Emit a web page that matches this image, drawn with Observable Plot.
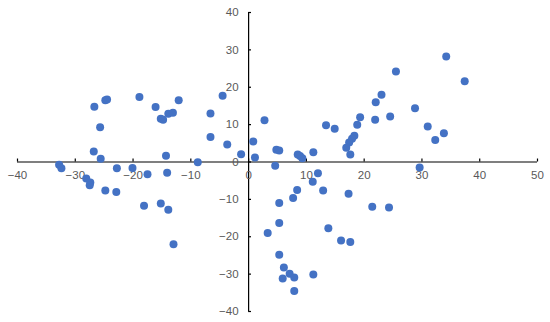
<!DOCTYPE html>
<html>
<head>
<meta charset="utf-8">
<script src="https://cdn.jsdelivr.net/npm/d3@7"></script>
<script src="https://cdn.jsdelivr.net/npm/@observablehq/plot@0.6"></script>
<style>
  html, body { margin: 0; padding: 0; background: #fff; }
  #chart svg { display: block; }
</style>
</head>
<body>
<div id="chart"></div>
<script>
const xValues = [-26.7,-25.7,-24.8,-24.5,-26.8,-25.6,-18.9,-16.1,-15.2,-14.8,-13.9,-13.1,-12.1,-14.3,-8.8,-6.6,-6.6,-4.5,-3.7,-1.3,0.8,1.1,2.75,
  34.2,37.4,25.5,23.0,22.0,28.8,19.3,18.8,21.9,24.5,13.4,14.9,31.0,32.3,33.8,18.3,17.9,17.4,16.9,17.6,11.2,8.5,8.9,9.3,4.8,5.3,
  -32.8,-32.4,-28.1,-27.4,-27.5,-24.8,-22.9,-22.8,-20.1,-17.5,-14.1,-18.1,-15.2,-13.9,-13.0,3.3,4.6,12.0,11.1,8.4,7.7,12.9,17.3,5.3,21.4,24.3,5.3,13.8,16.0,17.6,5.3,6.1,7.1,7.9,5.9,11.2,7.9,29.6];
const yValues = [14.8,9.3,16.5,16.7,2.8,0.9,17.4,14.7,11.6,11.3,12.9,13.2,16.5,1.7,-0.1,13.0,6.7,17.7,4.7,2.1,5.5,1.2,11.2,
  28.2,21.6,24.2,18.0,16.0,14.4,12.0,10.0,11.3,12.2,9.8,8.9,9.5,5.9,7.7,7.0,6.2,5.2,3.8,2.0,2.6,2.0,1.6,1.0,3.3,3.1,
  -0.75,-1.7,-4.4,-5.5,-6.2,-7.6,-8.0,-1.7,-1.6,-3.3,-2.9,-11.7,-11.1,-12.8,-22.0,-19.0,-1.0,-3.0,-5.3,-7.5,-9.6,-7.6,-8.5,-11.0,-12.0,-12.2,-16.3,-17.7,-21.0,-21.4,-24.8,-28.2,-29.9,-30.9,-31.2,-30.1,-34.5,-1.5];
const xTicks = [-40,-30,-20,-10,0,10,20,30,40,50];
const yTicks = [-40,-30,-20,-10,0,10,20,30,40];
const xTickLabels = ["−40","−30","−20","−10","0","10","20","30","40","50"];
const yTickLabels = ["−40","−30","−20","−10","0","10","20","30","40"];

const points = xValues.map((x, i) => ({x, y: yValues[i]}));
const font = "'Liberation Sans', Arial, sans-serif";

const chart = Plot.plot({
  width: 550,
  height: 322,
  marginLeft: 17,
  marginRight: 13,
  marginTop: 12,
  marginBottom: 11,
  style: {fontFamily: font, background: "#fff"},
  x: {domain: [-40, 50], axis: null},
  y: {domain: [-40, 40], axis: null},
  marks: [
    Plot.ruleY([0], {x1: -40, x2: 50, stroke: "#000", strokeWidth: 1.2}),
    Plot.ruleX([0], {y1: -40, y2: 40, stroke: "#000", strokeWidth: 1.2}),
    Plot.ruleX(xTicks, {x: d => d, y1: 0, y2: 0.8, stroke: "#000", strokeWidth: 1.2}),
    Plot.ruleY(yTicks, {y: d => d, x1: 0, x2: 0.5, stroke: "#000", strokeWidth: 1.2}),
    Plot.text(xTicks, {x: d => d, y: 0, dy: 13, text: (d, i) => xTickLabels[i], fill: "#595959", fontSize: 11.5}),
    Plot.text(yTicks, {x: 0, y: d => d, dx: -10, text: (d, i) => yTickLabels[i], textAnchor: "end", fill: "#595959", fontSize: 11.5}),
    Plot.dot(points, {x: "x", y: "y", r: 4, fill: "#4472C4", stroke: "none"})
  ]
});
document.getElementById("chart").appendChild(chart);
</script>
</body>
</html>
